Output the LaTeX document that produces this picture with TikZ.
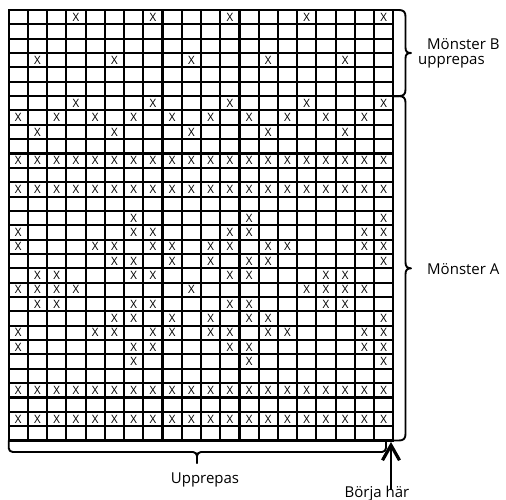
\documentclass[tikz,border=0pt]{standalone}
\usepackage{fontspec}
\setmainfont{Open Sans}
\usetikzlibrary{arrows.meta}
\begin{document}
\begin{tikzpicture}[x=1pt,y=-1pt,
  gridline/.style={line width=2.1pt, black, line cap=rect},
  xmark/.style={font=\fontsize{11.5}{13}\selectfont, inner sep=0pt},
  brc/.style={line width=1.9pt, line join=round, line cap=round},
  lbl/.style={font=\fontsize{15}{18}\selectfont, inner sep=0pt}]
\useasboundingbox (0,0) rectangle (506,500);
\def\gx{8.7}\def\gy{10}\def\cw{19.23}\def\ch{14.35}
% grid
\foreach \i in {0,...,20}
  \draw[gridline] ({\gx+\i*\cw},\gy) -- ({\gx+\i*\cw},{\gy+30*\ch});
\foreach \j in {0,...,30}
  \draw[gridline] (\gx,{\gy+\j*\ch}) -- ({\gx+20*\cw},{\gy+\j*\ch});
% X marks
\foreach \r/\cols in {
  1/{4,8,12,16,20},
  4/{2,6,10,14,18},
  7/{4,8,12,16,20},
  8/{1,3,5,7,9,11,13,15,17,19},
  9/{2,6,10,14,18},
  11/{1,...,20},
  13/{1,...,20},
  15/{7,13,20},
  16/{1,7,8,12,13,19,20},
  17/{1,5,6,8,9,11,12,14,15,19,20},
  18/{6,7,9,11,13,14,20},
  19/{2,3,7,8,12,13,17,18},
  20/{1,2,3,4,10,16,17,18,19},
  21/{2,3,7,8,12,13,17,18},
  22/{6,7,9,11,13,14,20},
  23/{1,5,6,8,9,11,12,14,15,19,20},
  24/{1,7,8,12,13,19,20},
  25/{7,13,20},
  27/{1,...,20},
  29/{1,...,20}}
  {\foreach \c in \cols
     \node[xmark] (x-\r-\c) at ({\gx+(\c-0.5)*\cw},{\gy+(\r-0.5)*\ch}) {X};}
% brace B (rows 1-6)
\coordinate (bBtop) at (393.3,10);
\coordinate (bBbot) at (393.3,96.1);
\coordinate (bAbot) at (393.3,440.5);
\draw[brc] (bBtop) -- (399,10) .. controls (403.5,10) and (405.5,12) .. (405.5,16.5)
  -- (405.5,47.5) .. controls (405.5,51.5) and (407,53) .. (411,53)
  .. controls (407,53) and (405.5,54.5) .. (405.5,58.5)
  -- (405.5,89.6) .. controls (405.5,94.1) and (403.5,96.1) .. (399,96.1) -- (bBbot);
% brace A (rows 7-30)
\draw[brc] (bBbot) -- (399,96.1) .. controls (403.5,96.1) and (405.5,98.1) .. (405.5,102.6)
  -- (405.5,262.3) .. controls (405.5,266.3) and (407,268.3) .. (411,268.3)
  .. controls (407,268.3) and (405.5,270.3) .. (405.5,274.3)
  -- (405.5,434) .. controls (405.5,438.5) and (403.5,440.5) .. (399,440.5) -- (bAbot);
% bottom brace
\coordinate (ubL) at (8.7,440.5);
\coordinate (ubR) at (386,442);
\coordinate (ubM) at (197,463);
\draw[brc, rounded corners=4pt] (ubL) -- (8.7,452) -- (197,452) -- (ubM);
\draw[brc, rounded corners=4pt] (ubM) -- (197,452) -- (386,452) -- (ubR);
% labels
\node[lbl, anchor=base west] (mB) at (427,50) {Mönster B};
\node[lbl, anchor=base west] (upB) at (418,65) {upprepas};
\node[lbl, anchor=base west] (mA) at (427,274) {Mönster A};
\node[lbl, anchor=base] (upp) at (205,483.5) {Upprepas};
\node[lbl, anchor=base] (borja) at (377,497) {Börja här};
% start arrow
\coordinate (arrFoot) at (391,490);
\coordinate (arrTip) at (391,442);
\draw[line width=1.9pt, -{Straight Barb[length=15pt,width=17pt,line width=3.2pt]}] (arrFoot) -- (arrTip);
\end{tikzpicture}
\end{document}
